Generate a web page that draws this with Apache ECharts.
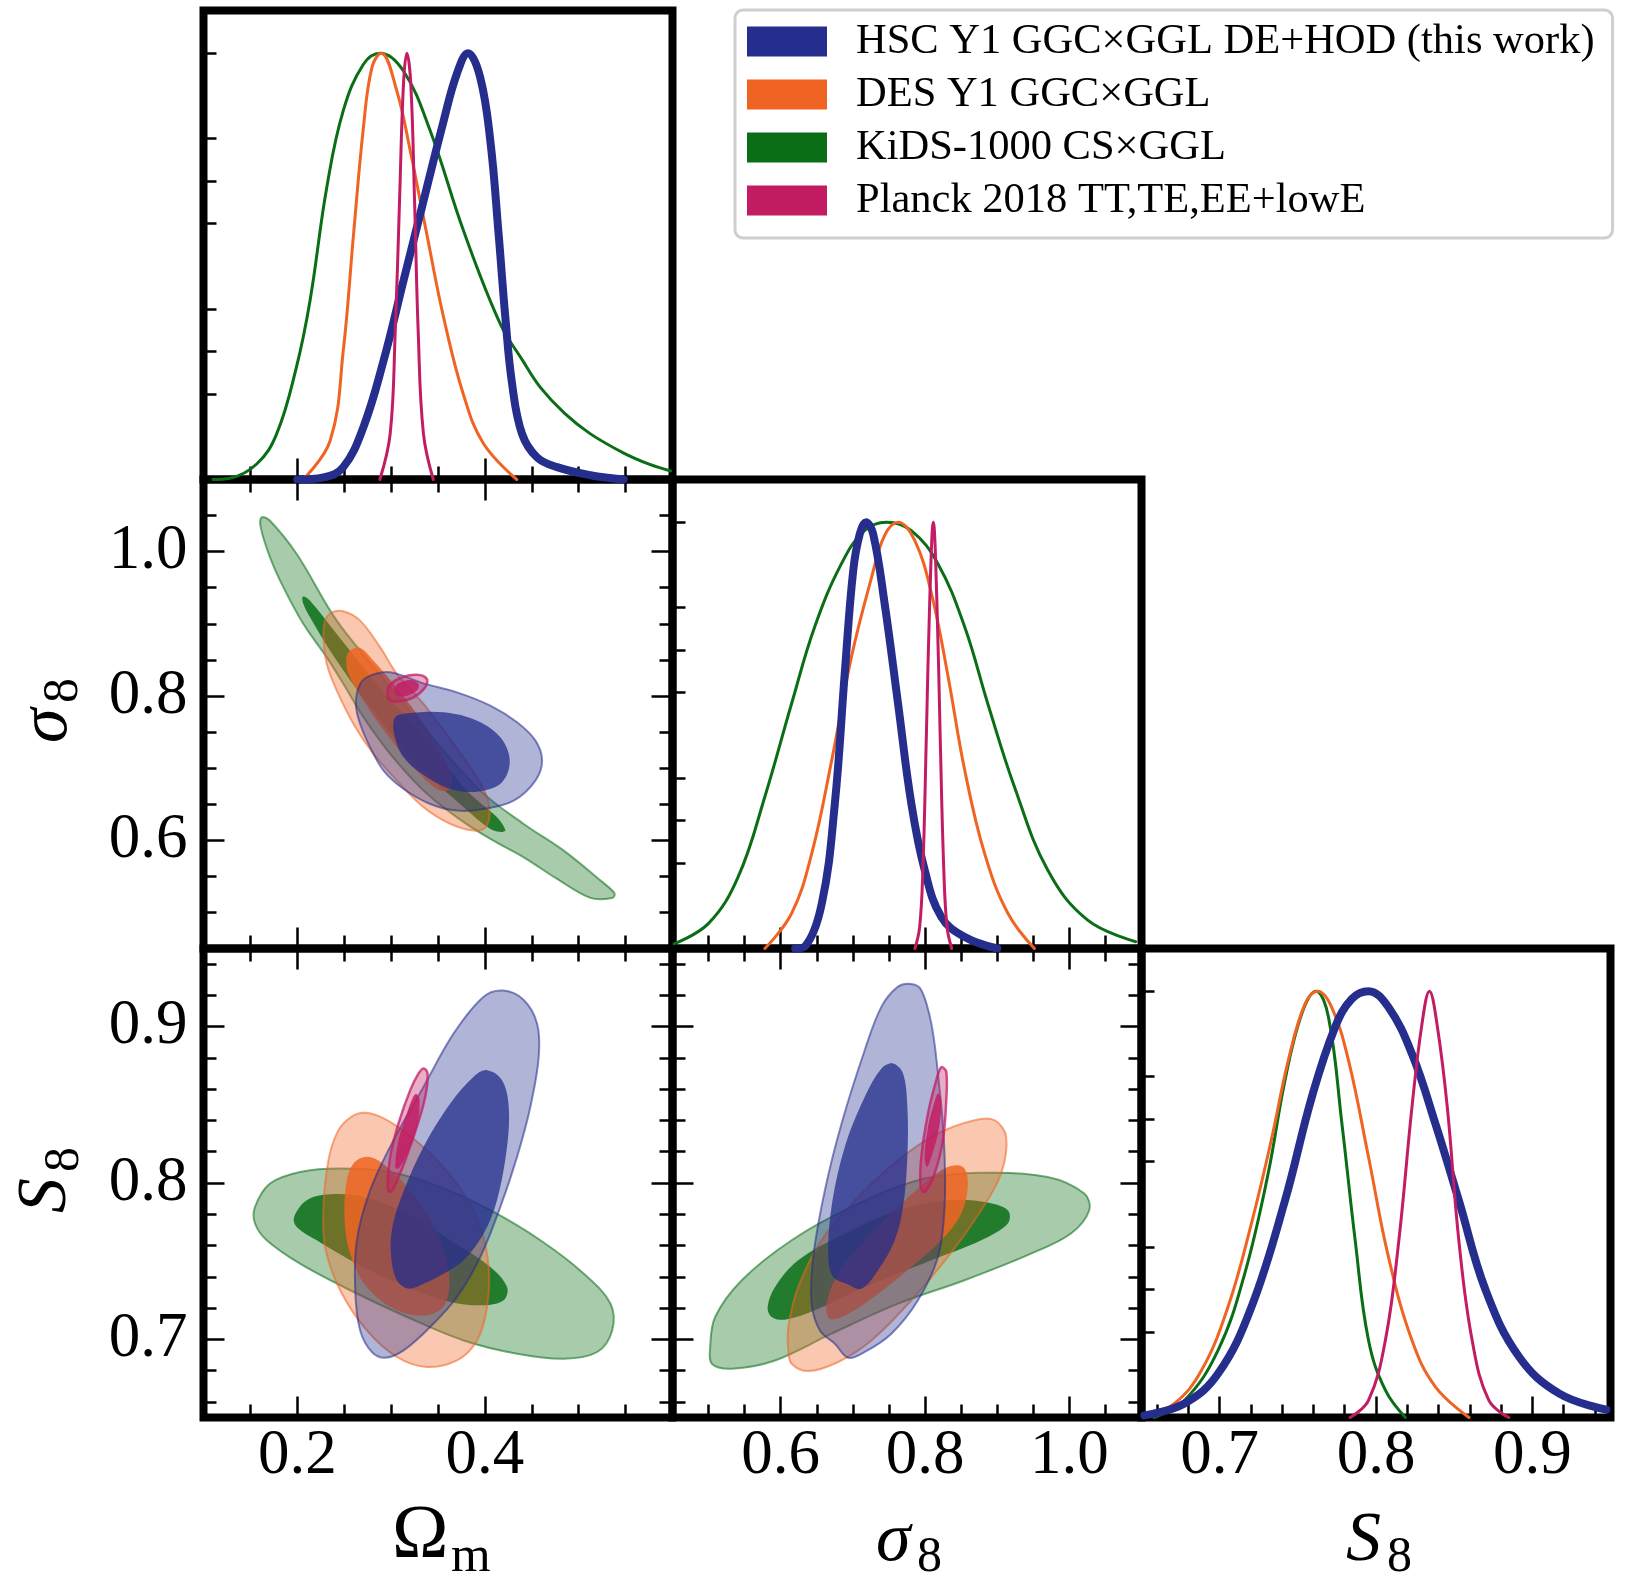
<!DOCTYPE html>
<html>
<head>
<meta charset="utf-8">
<script src="https://cdn.jsdelivr.net/npm/echarts@6/dist/echarts.min.js"></script>
<style>html,body{margin:0;padding:0;background:#fff}#c{width:1628px;height:1596px}</style>
</head>
<body>
<div id="c"></div>
<script>
// ---------------- DATA ----------------
const seriesNames = ['HSC Y1 GGC×GGL DE+HOD (this work)', 'DES Y1 GGC×GGL', 'KiDS-1000 CS×GGL', 'Planck 2018 TT,TE,EE+lowE'];

// axis ranges and ticks
const omRange = [0.1, 0.6];
const sigRange = [0.45, 1.1];
const S8Range = [0.65, 0.95];
const pdfRange = [0, 1.1];
const omMajor = [0.2, 0.4];
const omMinor = [0.15, 0.25, 0.3, 0.35, 0.45, 0.5, 0.55];
const sigMajor = [0.6, 0.8, 1.0];
const sigMinor = [0.5, 0.55, 0.65, 0.7, 0.75, 0.85, 0.9, 0.95, 1.05];
const S8Major = [0.7, 0.8, 0.9];
const S8Minor = [0.66, 0.68, 0.72, 0.74, 0.76, 0.78, 0.82, 0.84, 0.86, 0.88, 0.92, 0.94];
const pdfTicks = [0.2, 0.3, 0.4, 0.6, 0.7, 0.8, 1.0];

// 1D marginals: [parameter, normalised density]
const omHSC = [[0.20,0],[0.228,0.005],[0.249,0.029],[0.2705,0.123],[0.292,0.279],[0.3132,0.466],[0.3346,0.654],[0.356,0.841],[0.370,0.951],[0.382,1.0],[0.395,0.943],[0.4058,0.794],[0.4146,0.576],[0.4218,0.38],[0.429,0.224],[0.4396,0.107],[0.4556,0.052],[0.477,0.029],[0.5125,0.01],[0.548,0.0]];
const omDES = [[0.206,0],[0.235,0.091],[0.249,0.302],[0.26,0.576],[0.2705,0.826],[0.2795,0.966],[0.2894,1.0],[0.306,0.912],[0.3204,0.771],[0.338,0.576],[0.356,0.38],[0.377,0.2],[0.3986,0.084],[0.434,0]];
const omKiDS = [[0.11,0],[0.128,0.003],[0.157,0.037],[0.178,0.107],[0.199,0.263],[0.2136,0.42],[0.2314,0.685],[0.249,0.865],[0.2705,0.974],[0.2883,1.0],[0.3132,0.958],[0.3417,0.818],[0.3773,0.583],[0.4164,0.365],[0.44,0.28],[0.4591,0.216],[0.485,0.155],[0.5125,0.107],[0.548,0.062],[0.575,0.036],[0.598,0.02]];
const omPlanck = [[0.288,0],[0.299,0.107],[0.3043,0.34],[0.309,0.654],[0.3132,0.928],[0.3168,1.0],[0.321,0.928],[0.325,0.654],[0.329,0.34],[0.3345,0.107],[0.345,0]];

const sigHSC = [[0.62,0],[0.6336,0.005],[0.657,0.106],[0.675,0.34],[0.689,0.652],[0.7005,0.887],[0.7096,0.973],[0.718,1.0],[0.728,0.973],[0.744,0.809],[0.7626,0.574],[0.781,0.34],[0.7995,0.184],[0.8226,0.074],[0.855,0.027],[0.9,0]];
const sigDES = [[0.578,0],[0.615,0.082],[0.643,0.223],[0.6705,0.44],[0.698,0.684],[0.726,0.871],[0.744,0.969],[0.7626,1.0],[0.7857,0.957],[0.809,0.832],[0.832,0.637],[0.855,0.418],[0.8825,0.223],[0.915,0.082],[0.9516,0]];
const sigKiDS = [[0.452,0.011],[0.5,0.059],[0.541,0.168],[0.578,0.356],[0.615,0.574],[0.647,0.754],[0.684,0.902],[0.716,0.98],[0.7466,1.0],[0.781,0.98],[0.818,0.902],[0.855,0.754],[0.887,0.574],[0.924,0.379],[0.97,0.184],[1.025,0.067],[1.092,0.016]];
const sigPlanck = [[0.786,0],[0.7925,0.05],[0.797,0.184],[0.8018,0.496],[0.8064,0.809],[0.8115,1.0],[0.8165,0.809],[0.821,0.496],[0.826,0.184],[0.8305,0.05],[0.837,0]];

const S8HSC = [[0.6518,0.005],[0.6775,0.033],[0.699,0.103],[0.7203,0.259],[0.7418,0.509],[0.7589,0.751],[0.7739,0.916],[0.7846,0.982],[0.7952,1.0],[0.808,0.962],[0.823,0.853],[0.838,0.689],[0.853,0.509],[0.8702,0.298],[0.8916,0.142],[0.9173,0.056],[0.9473,0.0185]];
const S8DES = [[0.6518,0],[0.6711,0.033],[0.6883,0.11],[0.7053,0.259],[0.7203,0.455],[0.733,0.65],[0.7439,0.8375],[0.7546,0.97],[0.7627,1.0],[0.7717,0.962],[0.7824,0.8375],[0.7952,0.611],[0.808,0.376],[0.823,0.181],[0.838,0.072],[0.8595,0]];
const S8KiDS = [[0.658,0],[0.6775,0.04],[0.699,0.158],[0.716,0.337],[0.731,0.572],[0.7418,0.791],[0.7525,0.947],[0.7617,1.0],[0.7696,0.939],[0.7782,0.689],[0.7867,0.415],[0.7952,0.181],[0.806,0.064],[0.8188,0]];
const S8Planck = [[0.7835,0],[0.7952,0.04],[0.806,0.181],[0.8146,0.415],[0.823,0.728],[0.8294,0.923],[0.8342,1.0],[0.839,0.923],[0.8456,0.728],[0.853,0.415],[0.8615,0.181],[0.8722,0.04],[0.885,0]];

// 2D contours (outer = 95%, inner = 68%), vertices in data units
// Omega_m vs sigma_8
const omSig_KiDS2 = [[0.1620,1.0475],[0.1709,1.0429],[0.1994,0.9967],[0.2421,0.9044],[0.2848,0.8351],[0.3346,0.7566],[0.3951,0.6688],[0.4414,0.6226],[0.4841,0.5856],[0.5233,0.5441],[0.5382,0.5265],[0.5357,0.5201],[0.5126,0.5201],[0.4770,0.5464],[0.4414,0.5764],[0.4058,0.6018],[0.3702,0.6318],[0.3346,0.6688],[0.2990,0.7196],[0.2706,0.7704],[0.2492,0.8166],[0.2314,0.8535],[0.2065,0.8997],[0.1852,0.9505],[0.1709,0.9921],[0.1610,1.0337]];
const omSig_KiDS1 = [[0.2058,0.9376],[0.2136,0.9321],[0.2421,0.8859],[0.2848,0.8166],[0.3346,0.7427],[0.3809,0.6688],[0.4129,0.6318],[0.4218,0.6143],[0.4183,0.6116],[0.4058,0.6157],[0.3773,0.6457],[0.3275,0.7057],[0.2777,0.7843],[0.2350,0.8628],[0.2136,0.9090],[0.2065,0.9274]];
const omSig_DES2 = [[0.2368,0.9159],[0.2492,0.9173],[0.2670,0.9044],[0.2884,0.8674],[0.3062,0.8305],[0.3346,0.7889],[0.3667,0.7335],[0.3916,0.6873],[0.4023,0.6596],[0.4051,0.6365],[0.4005,0.6180],[0.3880,0.6134],[0.3631,0.6226],[0.3346,0.6457],[0.3062,0.6827],[0.2812,0.7196],[0.2599,0.7612],[0.2421,0.8074],[0.2314,0.8443],[0.2279,0.8813],[0.2296,0.9044]];
const omSig_DES1 = [[0.2563,0.8628],[0.2670,0.8665],[0.2812,0.8489],[0.3026,0.8166],[0.3275,0.7750],[0.3524,0.7242],[0.3649,0.6873],[0.3613,0.6697],[0.3489,0.6711],[0.3240,0.7011],[0.2955,0.7473],[0.2706,0.7935],[0.2546,0.8305],[0.2521,0.8513]];
const omSig_HSC2 = [[0.2670,0.8166],[0.2777,0.8281],[0.2990,0.8328],[0.3346,0.8175],[0.3702,0.8050],[0.4058,0.7866],[0.4343,0.7635],[0.4539,0.7381],[0.4610,0.7104],[0.4539,0.6827],[0.4307,0.6549],[0.3987,0.6434],[0.3702,0.6411],[0.3417,0.6503],[0.3133,0.6711],[0.2919,0.6965],[0.2777,0.7288],[0.2670,0.7612],[0.2624,0.7889]];
const omSig_HSC1 = [[0.3044,0.7704],[0.3204,0.7764],[0.3560,0.7773],[0.3916,0.7658],[0.4165,0.7427],[0.4265,0.7104],[0.4183,0.6804],[0.3951,0.6679],[0.3667,0.6697],[0.3382,0.6873],[0.3133,0.7150],[0.3033,0.7473]];
const omSig_Planck2 = [[0.2962,0.8037],[0.2983,0.8143],[0.3097,0.8249],[0.3275,0.8295],[0.3382,0.8235],[0.3364,0.8120],[0.3240,0.7981],[0.3079,0.7926],[0.2983,0.7944]];
const omSig_Planck1 = [[0.3033,0.8074],[0.3079,0.8175],[0.3204,0.8221],[0.3293,0.8166],[0.3275,0.8074],[0.3168,0.8004],[0.3069,0.8004]];

// Omega_m vs S_8
const omS8_KiDS2 = [[0.1549,0.7847],[0.1709,0.7997],[0.2029,0.8071],[0.2457,0.8093],[0.2990,0.8071],[0.3524,0.7975],[0.4058,0.7826],[0.4592,0.7634],[0.5055,0.7420],[0.5339,0.7228],[0.5357,0.7057],[0.5197,0.6919],[0.4841,0.6876],[0.4343,0.6908],[0.3773,0.6993],[0.3168,0.7143],[0.2563,0.7314],[0.2029,0.7484],[0.1674,0.7634],[0.1549,0.7741]];
const omS8_KiDS1 = [[0.1966,0.7783],[0.2101,0.7890],[0.2350,0.7928],[0.2706,0.7911],[0.3168,0.7805],[0.3631,0.7634],[0.4058,0.7463],[0.4236,0.7335],[0.4200,0.7250],[0.3987,0.7218],[0.3631,0.7239],[0.3168,0.7335],[0.2635,0.7484],[0.2207,0.7634],[0.1994,0.7719]];
const omS8_DES2 = [[0.2528,0.8402],[0.2688,0.8449],[0.2884,0.8424],[0.3168,0.8317],[0.3489,0.8146],[0.3773,0.7933],[0.3951,0.7719],[0.4040,0.7463],[0.4023,0.7207],[0.3916,0.6993],[0.3702,0.6865],[0.3382,0.6823],[0.3062,0.6887],[0.2741,0.7057],[0.2457,0.7314],[0.2296,0.7591],[0.2279,0.7847],[0.2332,0.8146],[0.2421,0.8317]];
const omS8_DES1 = [[0.2528,0.8018],[0.2599,0.8125],[0.2724,0.8167],[0.2884,0.8136],[0.3168,0.7975],[0.3453,0.7719],[0.3613,0.7442],[0.3578,0.7228],[0.3382,0.7154],[0.3062,0.7186],[0.2741,0.7335],[0.2563,0.7548],[0.2503,0.7783]];
const omS8_HSC2 = [[0.3987,0.9192],[0.4200,0.9231],[0.4414,0.9171],[0.4556,0.9021],[0.4574,0.8808],[0.4485,0.8488],[0.4343,0.8167],[0.4165,0.7847],[0.3951,0.7527],[0.3702,0.7271],[0.3417,0.7079],[0.3133,0.6929],[0.2937,0.6882],[0.2795,0.6919],[0.2670,0.7057],[0.2617,0.7314],[0.2635,0.7634],[0.2777,0.7954],[0.3026,0.8274],[0.3346,0.8616],[0.3667,0.8957]];
const omS8_HSC1 = [[0.3880,0.8680],[0.4023,0.8722],[0.4183,0.8658],[0.4254,0.8488],[0.4236,0.8232],[0.4129,0.7890],[0.3987,0.7677],[0.3773,0.7506],[0.3560,0.7420],[0.3346,0.7356],[0.3186,0.7324],[0.3062,0.7378],[0.3001,0.7527],[0.3008,0.7698],[0.3097,0.7890],[0.3346,0.8232],[0.3631,0.8509]];
const omS8_Planck2 = [[0.3346,0.8733],[0.3389,0.8701],[0.3364,0.8552],[0.3275,0.8360],[0.3151,0.8146],[0.3033,0.7975],[0.2983,0.7943],[0.2962,0.7986],[0.2990,0.8167],[0.3079,0.8381],[0.3204,0.8594],[0.3293,0.8701]];
const omS8_Planck1 = [[0.3268,0.8569],[0.3304,0.8530],[0.3282,0.8381],[0.3186,0.8210],[0.3079,0.8093],[0.3044,0.8103],[0.3079,0.8274],[0.3168,0.8445],[0.3232,0.8547]];

// sigma_8 vs S_8
const sigS8_KiDS2 = [[0.5045,0.6844],[0.5322,0.6812],[0.5921,0.6865],[0.6704,0.7036],[0.7626,0.7228],[0.8548,0.7378],[0.9469,0.7548],[1.0022,0.7677],[1.0276,0.7826],[1.0207,0.7933],[0.9700,0.8039],[0.8778,0.8065],[0.7902,0.8018],[0.6981,0.7847],[0.6151,0.7634],[0.5460,0.7378],[0.5091,0.7143],[0.5022,0.6951]];
const sigS8_KiDS1 = [[0.5875,0.7143],[0.6059,0.7126],[0.6474,0.7186],[0.7165,0.7335],[0.8087,0.7506],[0.8778,0.7634],[0.9147,0.7741],[0.9147,0.7826],[0.8824,0.7879],[0.8317,0.7890],[0.7626,0.7826],[0.6889,0.7677],[0.6243,0.7506],[0.5921,0.7335],[0.5819,0.7207]];
const sigS8_DES2 = [[0.6151,0.6844],[0.6382,0.6797],[0.6796,0.6855],[0.7257,0.6993],[0.7810,0.7250],[0.8317,0.7527],[0.8778,0.7826],[0.9055,0.8061],[0.9124,0.8296],[0.8962,0.8402],[0.8686,0.8402],[0.8179,0.8317],[0.7626,0.8146],[0.7073,0.7911],[0.6566,0.7634],[0.6243,0.7335],[0.6105,0.7079],[0.6105,0.6929]];
const sigS8_DES1 = [[0.8317,0.8103],[0.8525,0.8103],[0.8594,0.7997],[0.8502,0.7805],[0.8225,0.7634],[0.7810,0.7463],[0.7349,0.7292],[0.6935,0.7164],[0.6681,0.7132],[0.6635,0.7228],[0.6796,0.7420],[0.7165,0.7634],[0.7626,0.7847],[0.8041,0.8018]];
const sigS8_HSC2 = [[0.7626,0.9256],[0.7810,0.9273],[0.7948,0.9235],[0.8087,0.9021],[0.8179,0.8701],[0.8262,0.8274],[0.8271,0.7847],[0.8179,0.7527],[0.7902,0.7250],[0.7534,0.7036],[0.7165,0.6919],[0.6935,0.6882],[0.6750,0.6972],[0.6543,0.7057],[0.6428,0.7228],[0.6451,0.7527],[0.6612,0.7954],[0.6843,0.8381],[0.7165,0.8851],[0.7396,0.9128]];
const sigS8_HSC1 = [[0.7396,0.8733],[0.7557,0.8765],[0.7695,0.8701],[0.7755,0.8488],[0.7755,0.8167],[0.7695,0.7847],[0.7580,0.7634],[0.7349,0.7442],[0.7119,0.7324],[0.6912,0.7356],[0.6727,0.7399],[0.6658,0.7527],[0.6704,0.7847],[0.6889,0.8232],[0.7165,0.8552]];
const sigS8_Planck2 = [[0.8225,0.8740],[0.8294,0.8712],[0.8294,0.8530],[0.8248,0.8274],[0.8133,0.8061],[0.7995,0.7943],[0.7939,0.7975],[0.7948,0.8167],[0.8041,0.8445],[0.8156,0.8658]];
const sigS8_Planck1 = [[0.8179,0.8573],[0.8225,0.8530],[0.8188,0.8338],[0.8087,0.8167],[0.8027,0.8103],[0.7995,0.8167],[0.8041,0.8360],[0.8124,0.8509]];

// ---------------- STYLE / LAYOUT ----------------
const FONT = '"Liberation Serif", "Times New Roman", serif';
const COLORS = {HSC: [37,46,140], DES: [240,100,35], KiDS: [10,110,22], Planck: [194,29,99]};
const NAME = {HSC: seriesNames[0], DES: seriesNames[1], KiDS: seriesNames[2], Planck: seriesNames[3]};
const rgba = (c, a) => `rgba(${c[0]},${c[1]},${c[2]},${a})`;

const colLeft = [203.5, 672.5, 1141.5];
const rowTop = [10.5, 479.5, 948.5];
const SIZE = 469;

const AX = {
  om: {min: omRange[0], max: omRange[1], major: omMajor, minor: omMinor},
  sig: {min: sigRange[0], max: sigRange[1], major: sigMajor, minor: sigMinor},
  S8: {min: S8Range[0], max: S8Range[1], major: S8Major, minor: S8Minor},
  pdf: {min: pdfRange[0], max: pdfRange[1], major: pdfTicks, minor: []}
};
const panels = [
  {r:0, c:0, x:'om', y:'pdf'},
  {r:1, c:0, x:'om', y:'sig'},
  {r:1, c:1, x:'sig', y:'pdf'},
  {r:2, c:0, x:'om', y:'S8'},
  {r:2, c:1, x:'sig', y:'S8'},
  {r:2, c:2, x:'S8', y:'pdf'}
];

function mkAxis(gi, pos, v, ticks, len, lab) {
  return {
    type: 'value', gridIndex: gi, position: pos, min: v.min, max: v.max,
    axisLine: {show: false}, splitLine: {show: false},
    axisTick: {show: ticks.length > 0, inside: true, length: len, customValues: ticks,
               lineStyle: {color: '#000', width: 2.5}},
    axisLabel: {show: lab, customValues: ticks, formatter: (x) => x.toFixed(1),
                fontFamily: FONT, fontSize: 63, color: '#000',
                margin: (pos === 'bottom' ? 7 : 16)},
    axisPointer: {show: false}
  };
}

const grids = [], xAxes = [], yAxes = [], xi = [], yi = [];
panels.forEach((p, i) => {
  grids.push({left: colLeft[p.c], top: rowTop[p.r], width: SIZE, height: SIZE,
              show: true, borderColor: '#000', borderWidth: 8, backgroundColor: 'transparent'});
  const diag = p.y === 'pdf';
  const xv = AX[p.x], yv = AX[p.y];
  (diag ? ['bottom'] : ['bottom', 'top']).forEach(pos => {
    const lab = pos === 'bottom' && p.r === 2;
    if (pos === 'bottom') xi[i] = xAxes.length;
    xAxes.push(mkAxis(i, pos, xv, xv.major, 21, lab));
    xAxes.push(mkAxis(i, pos, xv, xv.minor, 13, false));
  });
  if (diag) {
    yi[i] = yAxes.length;
    yAxes.push(mkAxis(i, 'left', yv, yv.major, 13, false));
  } else {
    ['left', 'right'].forEach(pos => {
      const lab = pos === 'left' && p.c === 0;
      if (pos === 'left') yi[i] = yAxes.length;
      yAxes.push(mkAxis(i, pos, yv, yv.major, 21, lab));
      yAxes.push(mkAxis(i, pos, yv, yv.minor, 13, false));
    });
  }
});

const series = [];
function addLine(gi, key, data) {
  series.push({
    type: 'line', name: NAME[key], xAxisIndex: xi[gi], yAxisIndex: yi[gi],
    data: data, smooth: 0.4, symbol: 'none', silent: true, clip: true,
    lineStyle: {color: rgba(COLORS[key], 1), width: key === 'HSC' ? 8 : 3, cap: 'round', join: 'round'}
  });
}
function addContour(gi, key, pts, inner) {
  const c = COLORS[key];
  const fill = inner ? rgba(c, key === 'HSC' ? 0.76 : 0.85) : rgba(c, 0.36);
  const stroke = inner ? 'none' : rgba(c, key === 'Planck' ? 0.75 : 0.55);
  const lw = inner ? 0 : (key === 'Planck' ? 2.5 : 2);
  series.push({
    type: 'custom', name: NAME[key], coordinateSystem: 'cartesian2d',
    xAxisIndex: xi[gi], yAxisIndex: yi[gi], data: [pts[0]], silent: true, clip: true,
    renderItem: (params, api) => ({
      type: 'polygon',
      shape: {points: pts.map(p => api.coord(p)), smooth: 0.35},
      style: {fill: fill, stroke: stroke, lineWidth: lw}
    })
  });
}

// diagonal marginals
[[0, omKiDS, omDES, omHSC, omPlanck], [2, sigKiDS, sigDES, sigHSC, sigPlanck], [5, S8KiDS, S8DES, S8HSC, S8Planck]]
  .forEach(([g, k, d, h, p]) => { addLine(g, 'KiDS', k); addLine(g, 'DES', d); addLine(g, 'HSC', h); addLine(g, 'Planck', p); });

// 2D panels
[[1, [omSig_KiDS2, omSig_KiDS1], [omSig_DES2, omSig_DES1], [omSig_HSC2, omSig_HSC1], [omSig_Planck2, omSig_Planck1]],
 [3, [omS8_KiDS2, omS8_KiDS1], [omS8_DES2, omS8_DES1], [omS8_HSC2, omS8_HSC1], [omS8_Planck2, omS8_Planck1]],
 [4, [sigS8_KiDS2, sigS8_KiDS1], [sigS8_DES2, sigS8_DES1], [sigS8_HSC2, sigS8_HSC1], [sigS8_Planck2, sigS8_Planck1]]]
  .forEach(([g, k, d, h, p]) => {
    [['KiDS', k], ['DES', d], ['HSC', h], ['Planck', p]].forEach(([key, cs]) => {
      addContour(g, key, cs[0], false);
      addContour(g, key, cs[1], true);
    });
  });

// axis titles
function txt(x, y, s, size, italic) {
  return {type: 'text', x: x, y: y, silent: true,
          style: {text: s, fontFamily: FONT, fontSize: size, fontStyle: italic ? 'italic' : 'normal',
                  fill: '#000', align: 'left', verticalAlign: 'middle'}};
}
const graphics = [
  txt(392, 1537, 'Ω', 76, false), txt(451, 1558, 'm', 51, false),
  txt(876, 1541.5, 'σ', 70, true), txt(917, 1558, '8', 50, false),
  txt(1346, 1541.5, 'S', 70, true), txt(1387, 1558, '8', 50, false),
  {type: 'group', x: 0, y: 0, rotation: Math.PI / 2, children: [
    txt(-743, 48, 'σ', 70, true), txt(-703, 64, '8', 50, false),
    txt(-1213, 46.5, 'S', 70, true), txt(-1172, 64.5, '8', 50, false)
  ]}
];

const chart = echarts.init(document.getElementById('c'), null, {renderer: 'canvas'});
chart.setOption({
  animation: false,
  backgroundColor: '#fff',
  grid: grids, xAxis: xAxes, yAxis: yAxes, series: series,
  graphic: graphics,
  legend: {
    orient: 'vertical', left: 735, top: 10, selectedMode: false,
    padding: [10, 18, 16, 12], itemWidth: 80, itemHeight: 30, itemGap: 10,
    backgroundColor: '#fff', borderColor: '#cfcfcf', borderWidth: 3, borderRadius: 8,
    textStyle: {fontFamily: FONT, fontSize: 42.5, lineHeight: 40, color: '#000', padding: [0, 0, 0, 24]},
    data: [
      {name: NAME.HSC, icon: 'rect', itemStyle: {color: rgba(COLORS.HSC, 1)}},
      {name: NAME.DES, icon: 'rect', itemStyle: {color: rgba(COLORS.DES, 1)}},
      {name: NAME.KiDS, icon: 'rect', itemStyle: {color: rgba(COLORS.KiDS, 1)}},
      {name: NAME.Planck, icon: 'rect', itemStyle: {color: rgba(COLORS.Planck, 1)}}
    ]
  }
});
</script>
</body>
</html>
